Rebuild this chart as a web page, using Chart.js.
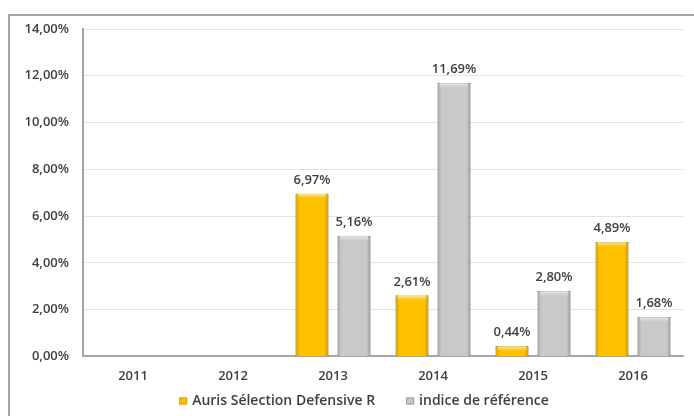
<!DOCTYPE html>
<html>
<head>
<meta charset="utf-8">
<script src="https://cdn.jsdelivr.net/npm/chart.js@4.4.0/dist/chart.umd.min.js"></script>
<style>
    body { margin: 0; background: #fff; }
    #wrap { position: relative; width: 694px; height: 416px; overflow: hidden; }
    #frame { position: absolute; left: 8px; top: 14px; width: 720px; height: 440px;
             border-left: 2px solid #a6a6a6; border-top: 2px solid #a6a6a6; }
    canvas { position: absolute; left: 0; top: 0; }
</style>
</head>
<body>
<div id="wrap">
    <div id="frame"></div>
    <canvas id="bar-chart" width="694" height="416"></canvas>
</div>
<script>
    // data
    var annees = ["2011", "2012", "2013", "2014", "2015", "2016"]
    var fonds = [null, null, 6.97, 2.61, 0.44, 4.89]
    var indice = [null, null, 5.16, 11.69, 2.80, 1.68]
    var ticksY = [0, 2, 4, 6, 8, 10, 12, 14]

    var police = "'Open Sans'"

    function pct(v) {
        return v.toFixed(2).replace(".", ",") + "%"
    }

    // bevel look + value labels on top of bars
    var barExtras = {
        id: "barExtras",
        afterDatasetsDraw: function (chart) {
            var ctx = chart.ctx
            ctx.save()
            chart.data.datasets.forEach(function (ds, i) {
                var meta = chart.getDatasetMeta(i)
                meta.data.forEach(function (bar, j) {
                    var v = ds.data[j]
                    if (v === null) return
                    var left = bar.x - bar.width / 2
                    var h = bar.base - bar.y
                    var g = ctx.createLinearGradient(left, 0, left + bar.width, 0)
                    g.addColorStop(0, "rgba(0,0,0,0.18)")
                    g.addColorStop(0.12, "rgba(0,0,0,0)")
                    g.addColorStop(0.88, "rgba(0,0,0,0)")
                    g.addColorStop(1, "rgba(0,0,0,0.22)")
                    ctx.fillStyle = g
                    ctx.fillRect(left, bar.y, bar.width, h)
                    if (h > 6) {
                        var g2 = ctx.createLinearGradient(0, bar.y, 0, bar.y + 5)
                        g2.addColorStop(0, "rgba(255,255,255,0.55)")
                        g2.addColorStop(1, "rgba(255,255,255,0)")
                        ctx.fillStyle = g2
                        ctx.fillRect(left + 2, bar.y, bar.width - 4, 5)
                    }
                    ctx.fillStyle = "#404040"
                    ctx.font = "600 13px " + police
                    ctx.textAlign = "center"
                    ctx.textBaseline = "bottom"
                    ctx.fillText(pct(v), bar.x, bar.y - 7)
                })
            })
            ctx.restore()
        }
    }

    // legend drawn under the axis, centred, from the dataset labels/colours
    var legendeBas = {
        id: "legendeBas",
        afterDraw: function (chart) {
            var ctx = chart.ctx
            var y = 401
            var centre = 364
            var box = 8
            var gap = 5
            var espace = 31
            ctx.save()
            ctx.font = "600 14px " + police
            ctx.textBaseline = "middle"
            var largeurs = chart.data.datasets.map(function (ds) {
                return box + gap + ctx.measureText(ds.label).width
            })
            var total = largeurs.reduce(function (a, b) { return a + b }, 0) + espace * (largeurs.length - 1)
            var x = centre - total / 2
            chart.data.datasets.forEach(function (ds, i) {
                ctx.fillStyle = ds.backgroundColor
                ctx.fillRect(x, y - 3.5, box, 7)
                ctx.strokeStyle = ds.borderColor
                ctx.lineWidth = 1
                ctx.strokeRect(x + 0.5, y - 3, box - 1, 6)
                ctx.fillStyle = "#404040"
                ctx.textAlign = "left"
                ctx.fillText(ds.label, x + box + gap, y)
                x += largeurs[i] + espace
            })
            ctx.restore()
        }
    }

    var ctx = document.getElementById("bar-chart").getContext("2d")
    var myChart = new Chart(ctx, {
        type: "bar",
        data: {
            labels: annees,
            datasets: [{
                label: "Auris Sélection Defensive R",
                backgroundColor: "#ffc000",
                borderColor: "#d9a300",
                borderWidth: 1,
                data: fonds
            }, {
                label: "indice de référence",
                backgroundColor: "#c9c9c9",
                borderColor: "#9a9a9a",
                borderWidth: 1,
                data: indice
            }]
        },
        options: {
            responsive: false,
            animation: false,
            categoryPercentage: 0.84,
            barPercentage: 0.786,
            layout: { padding: { left: 8, right: 11, top: 29, bottom: 20 } },
            plugins: {
                tooltip: { enabled: false },
                legend: { display: false }
            },
            scales: {
                x: {
                    grid: { display: false, drawTicks: false },
                    border: { color: "#a6a6a6", width: 2 },
                    ticks: {
                        padding: 12,
                        color: "#404040",
                        font: { family: police, size: 13, weight: "600" }
                    }
                },
                y: {
                    min: 0,
                    max: 14,
                    afterBuildTicks: function (scale) {
                        scale.ticks = ticksY.map(function (t) { return { value: t } })
                    },
                    afterFit: function (scale) { scale.width = 75 },
                    grid: { color: "#e3e3e3", drawTicks: false },
                    border: { color: "#a6a6a6", width: 2 },
                    ticks: {
                        padding: 14,
                        color: "#404040",
                        font: { family: police, size: 13, weight: "600" },
                        callback: function (v) { return pct(v) }
                    }
                }
            }
        },
        plugins: [barExtras, legendeBas]
    })
</script>
</body>
</html>
